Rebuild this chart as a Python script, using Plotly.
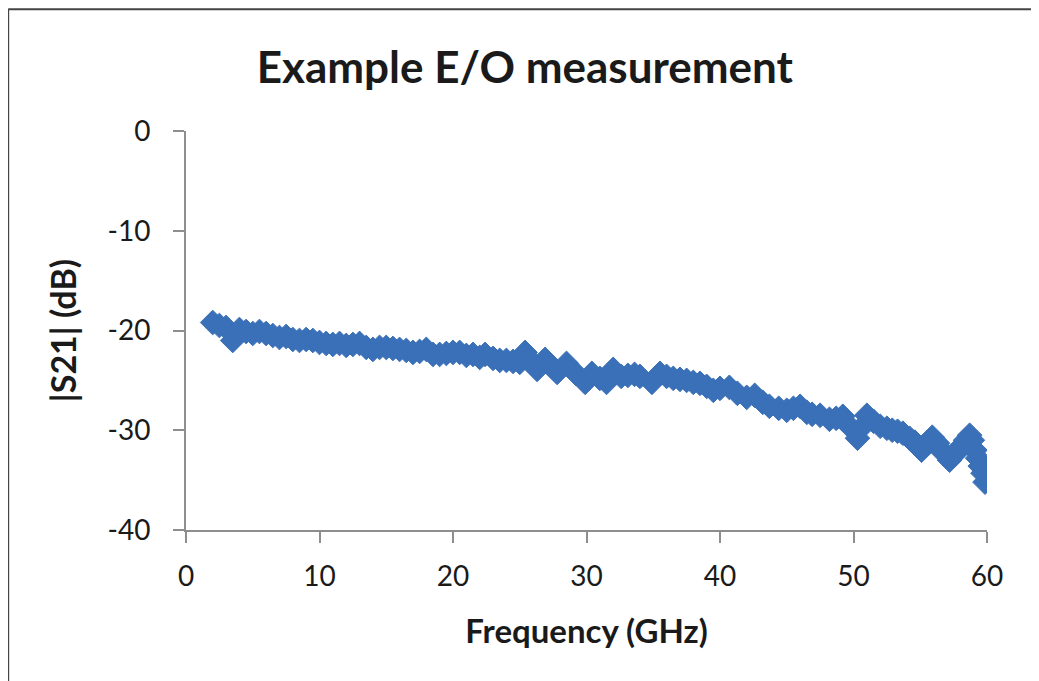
import plotly.graph_objects as go

# Frequency (GHz) and |S21| (dB)
freq_ghz = [2.0, 2.5, 3.0, 3.5, 4.0, 4.5, 5.0, 5.5, 6.0, 6.5, 7.0, 7.5, 8.0, 8.5, 9.0, 9.5,
            10.0, 10.5, 11.0, 11.5, 12.0, 12.5, 13.0, 13.5, 14.0, 14.5, 15.0, 15.5, 16.0,
            16.5, 17.0, 17.5, 18.0, 18.5, 19.0, 19.5, 20.0, 20.5, 21.0, 21.5, 22.0, 22.4,
            23.0, 23.5, 24.0, 24.5, 25.0, 25.4, 25.8, 26.3, 26.9, 27.4, 27.8, 28.5, 29.2,
            29.9, 30.4, 31.0, 31.5, 32.0, 32.6, 33.1, 33.6, 34.0, 34.9, 35.5, 36.0, 36.5,
            37.0, 37.5, 38.0, 38.5, 39.0, 39.5, 40.0, 40.7, 41.3, 42.0, 42.6, 43.2, 43.7,
            44.4, 45.0, 45.5, 46.0, 46.5, 46.9, 47.5, 48.2, 48.7, 49.2, 49.7, 50.3, 50.7,
            51.0, 51.5, 52.0, 52.5, 52.9, 53.3, 53.7, 54.2, 54.6, 55.1, 55.5, 55.9, 56.3,
            56.7, 57.2, 57.6, 58.0, 58.4, 58.7, 58.9, 59.1, 59.3, 59.5, 59.7, 59.85]
s21_db = [-19.2, -19.5, -19.7, -21.0, -19.9, -20.1, -20.3, -20.1, -20.3, -20.5, -20.7, -20.6,
          -20.9, -21.0, -20.9, -21.0, -21.2, -21.3, -21.4, -21.3, -21.5, -21.4, -21.3, -21.7,
          -21.9, -21.7, -21.7, -21.8, -21.9, -22.0, -22.2, -22.1, -21.9, -22.4, -22.4, -22.3,
          -22.2, -22.2, -22.5, -22.4, -22.7, -22.4, -22.8, -23.0, -23.0, -23.1, -23.2, -22.2,
          -23.0, -23.9, -22.9, -23.6, -24.2, -23.3, -24.3, -25.2, -24.3, -24.8, -25.2, -23.9,
          -24.6, -24.5, -24.4, -24.6, -25.2, -24.3, -24.6, -24.8, -24.9, -25.0, -25.2, -25.3,
          -25.6, -26.0, -25.8, -25.7, -26.3, -26.7, -26.5, -27.2, -27.6, -27.8, -28.0, -27.8,
          -27.6, -28.2, -28.4, -28.5, -28.9, -28.8, -28.6, -29.6, -30.8, -29.6, -28.5, -29.1,
          -29.6, -29.8, -30.0, -30.1, -30.3, -30.8, -31.2, -32.0, -31.3, -30.7, -31.3, -32.2,
          -33.0, -32.4, -31.7, -31.0, -30.5, -31.0, -32.0, -32.8, -33.6, -34.3, -35.2]

x_ticks = [0, 10, 20, 30, 40, 50, 60]
y_ticks = [0, -10, -20, -30, -40]
y_tick_text = ["0", "-10", "-20", "-30", "-40"]

FONT = "Lato"
TXT = "#1a1a1a"
AXIS = "#8e8e8e"
BLUE = "#3a70b8"

fig = go.Figure()
fig.add_trace(go.Scatter(
    x=freq_ghz, y=s21_db, mode="markers",
    marker=dict(symbol="diamond", size=19, color=BLUE, line=dict(width=1, color=BLUE)),
    showlegend=False,
))

fig.update_layout(
    width=1039, height=681,
    margin=dict(l=178, r=60, t=123, b=159),
    paper_bgcolor="white", plot_bgcolor="white",
    font=dict(family=FONT, color=TXT),
    title=dict(text="<b>Example E/O measurement</b>", font=dict(size=44, family=FONT, color=TXT),
               x=0.423, xref="paper", xanchor="center", y=0.913, yref="container", yanchor="middle"),
    xaxis=dict(range=[0, 60], tickvals=x_ticks, ticks="outside", ticklen=11, tickwidth=2,
               tickcolor=AXIS, showline=True, linecolor=AXIS, linewidth=2, showgrid=False,
               zeroline=False, tickfont=dict(size=28, family=FONT, color=TXT),
               ticklabelstandoff=9,
               title=dict(text="<b>Frequency (GHz)</b>", font=dict(size=33, family=FONT, color=TXT),
                          standoff=29)),
    yaxis=dict(range=[-40, 0], tickvals=y_ticks, ticktext=y_tick_text, ticks="outside",
               ticklen=11, tickwidth=2,
               tickcolor=AXIS, showline=True, linecolor=AXIS, linewidth=2, showgrid=False,
               zeroline=False, tickfont=dict(size=28, family=FONT, color=TXT),
               ticklabelstandoff=17,
               title=dict(text="<b>|S21| (dB)</b>", font=dict(size=34, family=FONT, color=TXT),
                          standoff=21)),
    shapes=[
        dict(type="line", xref="paper", yref="paper", x0=-0.222, x1=-0.222, y0=-0.4, y1=1.305,
             line=dict(color="#444444", width=2)),
        dict(type="line", xref="paper", yref="paper", x0=-0.222, x1=1.1, y0=1.305, y1=1.305,
             line=dict(color="#444444", width=2)),
    ],
)

fig.write_html("out.html")
